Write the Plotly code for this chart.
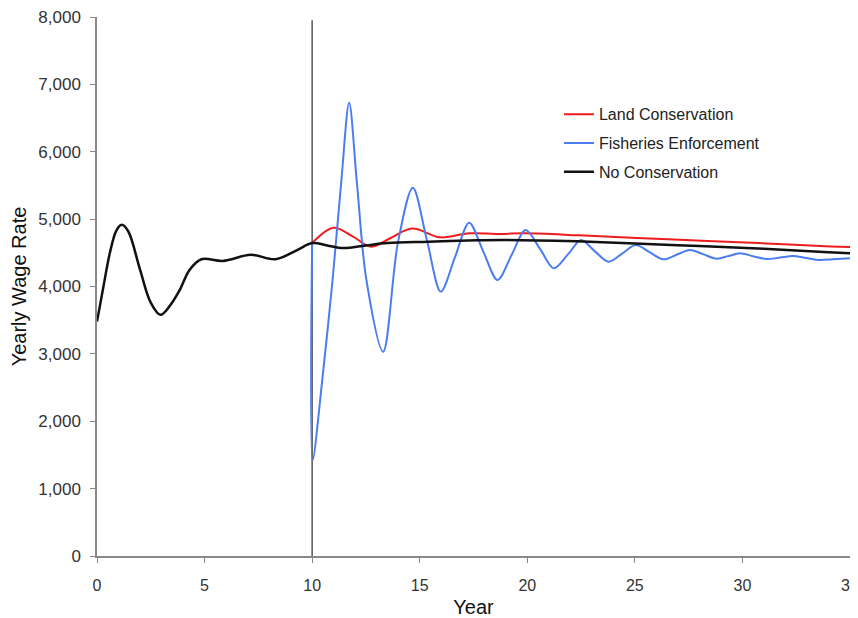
import plotly.graph_objects as go

# ---- data ----
years_none = [0, 0.3, 0.6, 0.9, 1.15, 1.45, 2.0, 2.5, 2.95, 3.4, 3.85, 4.3, 4.85,
              5.85, 7.15, 8.3, 9.3, 10.0,
              10.7, 11.45, 12.5, 13.5, 15.4, 17.7, 19.0, 22.3, 25.0, 28.0, 31.0, 34.0, 35.0]
wage_none = [3480, 4000, 4500, 4830, 4915, 4820, 4250, 3760, 3580, 3720, 3950, 4245, 4405,
             4380, 4470, 4405, 4540, 4645,
             4610, 4570, 4610, 4645, 4665, 4685, 4690, 4670, 4640, 4600, 4560, 4510, 4495]

years_land = [10.0, 11.0, 11.9, 12.75, 13.65, 14.65, 15.95, 17.3, 18.7, 19.9, 22.4,
              25.1, 28.1, 31.1, 34.1, 35.0]
wage_land = [4645, 4873, 4740, 4590, 4720, 4860, 4730, 4790, 4780, 4790, 4760,
             4720, 4680, 4640, 4595, 4585]

years_fish = [10.0, 10.02, 10.47, 10.95, 11.36, 11.72, 12.07, 12.52, 13.3, 13.98, 14.68,
              15.33, 15.98, 16.64, 17.3, 17.95, 18.62, 19.27, 19.92, 20.6, 21.23,
              21.9, 22.5, 23.12, 23.78, 24.42, 25.04, 25.68, 26.33, 26.94, 27.57, 28.19,
              28.8, 29.35, 29.88, 30.5, 31.12, 31.76, 32.36, 32.97, 33.59, 34.2, 35.0]
wage_fish = [4645, 1420, 2612, 4100, 5580, 6728, 5580, 4100, 3033, 4640, 5467,
             4695, 3924, 4436, 4948, 4522, 4096, 4467, 4838, 4554, 4270,
             4480, 4690, 4529, 4368, 4492, 4616, 4510, 4403, 4472, 4541, 4477,
             4413, 4452, 4492, 4450, 4408, 4430, 4452, 4422, 4393, 4405, 4420]

policy_year = 10
x_ticks = [0, 5, 10, 15, 20, 25, 30, 35]
y_ticks = [0, 1000, 2000, 3000, 4000, 5000, 6000, 7000, 8000]
y_top_line = 7950

FONT = "Liberation Sans, Arial, sans-serif"

fig = go.Figure()
fig.add_trace(go.Scatter(x=years_land, y=wage_land, mode="lines", name="Land Conservation",
                         line=dict(color="#ee1c1c", width=2, shape="spline", smoothing=1.0),
                         legendgroup="a"))
fig.add_trace(go.Scatter(x=years_fish, y=wage_fish, mode="lines", name="Fisheries Enforcement",
                         line=dict(color="#4a7df2", width=2, shape="spline", smoothing=0.9),
                         legendgroup="b"))
fig.add_trace(go.Scatter(x=years_none, y=wage_none, mode="lines", name="No Conservation",
                         line=dict(color="#111111", width=2.5, shape="spline", smoothing=1.0),
                         legendgroup="c"))

fig.add_shape(type="line", x0=policy_year, x1=policy_year, y0=0, y1=y_top_line,
              xref="x", yref="y", line=dict(color="#555555", width=1.5), layer="below")

fig.update_layout(
    width=850, height=610,
    margin=dict(l=89, r=8, t=9, b=62),
    paper_bgcolor="white", plot_bgcolor="white",
    font=dict(family=FONT, size=16, color="#222222"),
    showlegend=True,
    legend=dict(x=0.6135, y=0.851, xanchor="left", yanchor="top",
                font=dict(size=16, color="#222222"), bgcolor="rgba(0,0,0,0)",
                traceorder="grouped", tracegroupgap=5),
    xaxis=dict(range=[0, 35], tickvals=x_ticks, showgrid=False, zeroline=False,
               showline=True, linecolor="#888888", linewidth=1.5, automargin=False,
               ticklabelstandoff=9, ticklabeloverflow="allow",
               ticks="outside", ticklen=5, tickcolor="#888888",
               tickfont=dict(size=16, color="#333333"),
               title=dict(text="Year", font=dict(size=20, color="#111111"), standoff=8)),
    yaxis=dict(range=[0, 8000], tickvals=y_ticks, tickformat=",", showgrid=False,
               zeroline=False, showline=True, linecolor="#888888", linewidth=1.5,
               automargin=False, ticklabelstandoff=6, ticklabeloverflow="allow",
               ticks="outside", ticklen=5, tickcolor="#888888",
               tickfont=dict(size=17, color="#333333"),
               title=dict(text="Yearly Wage Rate", font=dict(size=20, color="#111111"), standoff=6)),
)

fig.write_html("out.html")
